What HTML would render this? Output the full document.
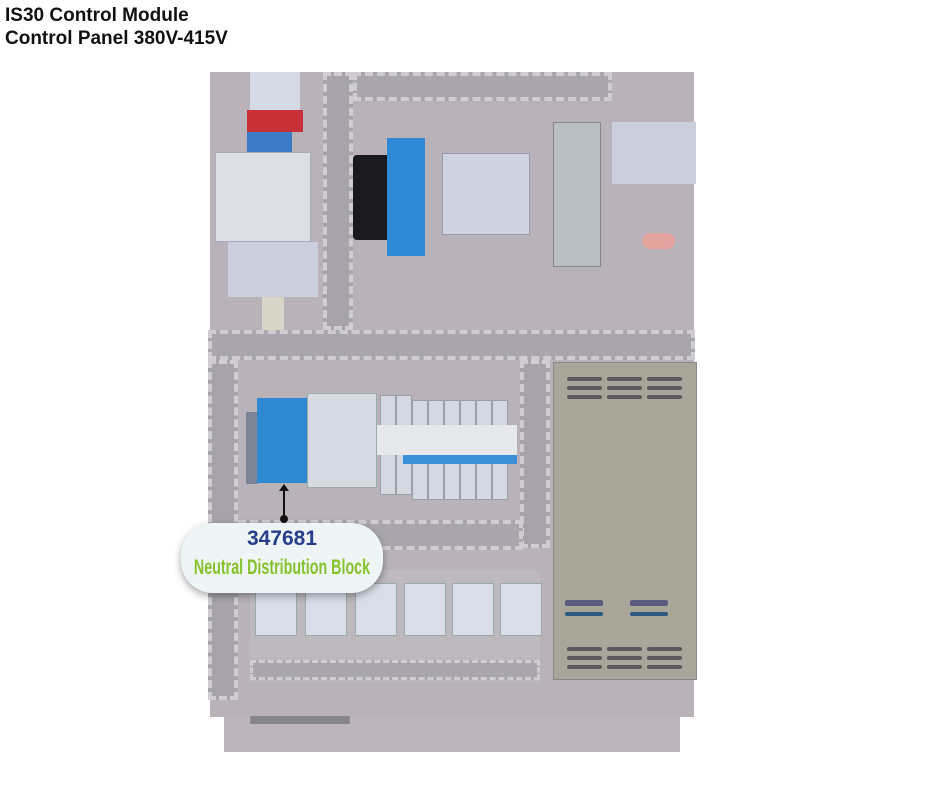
<!DOCTYPE html>
<html><head><style>
body{margin:0;width:940px;height:788px;background:#fff;position:relative;overflow:hidden;font-family:"Liberation Sans",sans-serif}
div{position:absolute;box-sizing:border-box}
.duct{background:#a9a7ad;border:4px dashed #cfcdd2}
.ductv{background:#a6a4aa;border:4px dashed #cfcdd2}
.rel{background:#d8dde8;border:1px solid #9aa;width:42px;height:53px;top:583px}
.sl{background:#5a5a5e;height:4px;border-radius:2px}
.br{background:#d4d8e0;border:1px solid #9aa0aa;width:16px}
</style></head><body>
<div style="left:5px;top:4px;font-weight:bold;font-size:19px;line-height:23px;color:#111">IS30 Control Module<br>Control Panel 380V-415V</div>
<div style="left:210px;top:72px;width:484px;height:645px;background:#b9b3b9"></div>
<div style="left:224px;top:716px;width:456px;height:36px;background:#bcb6bc"></div>
<div class="duct" style="left:353px;top:72px;width:259px;height:29px"></div>
<div class="ductv" style="left:323px;top:72px;width:30px;height:258px"></div>
<div class="duct" style="left:208px;top:330px;width:487px;height:30px"></div>
<div class="ductv" style="left:208px;top:360px;width:30px;height:340px"></div>
<div class="ductv" style="left:520px;top:360px;width:30px;height:188px"></div>
<div class="duct" style="left:238px;top:520px;width:285px;height:30px"></div>
<div style="left:250px;top:72px;width:50px;height:40px;background:#d6dae4"></div>
<div style="left:247px;top:110px;width:56px;height:22px;background:#c8303a"></div>
<div style="left:247px;top:132px;width:45px;height:20px;background:#3b7cc4"></div>
<div style="left:215px;top:152px;width:96px;height:90px;background:#dcdfe6;border:1px solid #aab"></div>
<div style="left:228px;top:242px;width:90px;height:55px;background:#c9cfdc"></div>
<div style="left:262px;top:297px;width:22px;height:33px;background:#d8d6c8"></div>
<div style="left:353px;top:155px;width:40px;height:85px;background:#1a1a1c;border-radius:4px"></div>
<div style="left:387px;top:138px;width:38px;height:118px;background:#2f8ad6"></div>
<div style="left:442px;top:153px;width:88px;height:82px;background:#cdd3e0;border:1px solid #99a"></div>
<div style="left:553px;top:122px;width:48px;height:145px;background:#b8c0c4;border:1px solid #888"></div>
<div style="left:612px;top:122px;width:84px;height:62px;background:#c8cedc"></div>
<div style="left:642px;top:233px;width:33px;height:16px;background:#e4a4a0;border-radius:8px"></div>
<div style="left:246px;top:412px;width:12px;height:72px;background:#7b8494"></div>
<div style="left:257px;top:398px;width:50px;height:85px;background:#2e88d2"></div>
<div style="left:307px;top:393px;width:70px;height:95px;background:#d6dae2;border:1px solid #9aa"></div>
<div class="br" style="left:380px;top:395px;height:100px"></div>
<div class="br" style="left:396px;top:395px;height:100px"></div>
<div class="br" style="left:412px;top:400px;height:100px"></div>
<div class="br" style="left:428px;top:400px;height:100px"></div>
<div class="br" style="left:444px;top:400px;height:100px"></div>
<div class="br" style="left:460px;top:400px;height:100px"></div>
<div class="br" style="left:476px;top:400px;height:100px"></div>
<div class="br" style="left:492px;top:400px;height:100px"></div>
<div style="left:377px;top:425px;width:140px;height:30px;background:#e6e8ea"></div>
<div style="left:403px;top:455px;width:114px;height:9px;background:#3c90d8"></div>
<div style="left:553px;top:362px;width:144px;height:318px;background:#a8a699;border:1px solid #888"></div>
<div class="sl" style="left:567px;top:377px;width:35px"></div><div class="sl" style="left:607px;top:377px;width:35px"></div><div class="sl" style="left:647px;top:377px;width:35px"></div>
<div class="sl" style="left:567px;top:386px;width:35px"></div><div class="sl" style="left:607px;top:386px;width:35px"></div><div class="sl" style="left:647px;top:386px;width:35px"></div>
<div class="sl" style="left:567px;top:395px;width:35px"></div><div class="sl" style="left:607px;top:395px;width:35px"></div><div class="sl" style="left:647px;top:395px;width:35px"></div>
<div class="sl" style="left:565px;top:600px;width:38px;height:6px;background:#5c5c80"></div><div class="sl" style="left:630px;top:600px;width:38px;height:6px;background:#5c5c80"></div>
<div class="sl" style="left:565px;top:612px;width:38px;background:#2c5a80"></div><div class="sl" style="left:630px;top:612px;width:38px;background:#2c5a80"></div>
<div class="sl" style="left:567px;top:647px;width:35px"></div><div class="sl" style="left:607px;top:647px;width:35px"></div><div class="sl" style="left:647px;top:647px;width:35px"></div>
<div class="sl" style="left:567px;top:656px;width:35px"></div><div class="sl" style="left:607px;top:656px;width:35px"></div><div class="sl" style="left:647px;top:656px;width:35px"></div>
<div class="sl" style="left:567px;top:665px;width:35px"></div><div class="sl" style="left:607px;top:665px;width:35px"></div><div class="sl" style="left:647px;top:665px;width:35px"></div>
<div style="left:250px;top:570px;width:290px;height:112px;background:#bdb9bd"></div>
<div class="duct" style="left:250px;top:660px;width:290px;height:20px;border-width:3px"></div>
<div class="rel" style="left:255px"></div><div class="rel" style="left:305px"></div><div class="rel" style="left:355px"></div>
<div class="rel" style="left:404px"></div><div class="rel" style="left:452px"></div><div class="rel" style="left:500px"></div>
<div style="left:250px;top:716px;width:100px;height:8px;background:#888"></div>
<div style="left:283px;top:487px;width:2px;height:33px;background:#111"></div>
<div style="left:279px;top:484px;width:0;height:0;border-left:5px solid transparent;border-right:5px solid transparent;border-bottom:7px solid #111"></div>
<div style="left:280px;top:515px;width:8px;height:8px;border-radius:4px;background:#111"></div>
<div style="left:181px;top:523px;width:202px;height:70px;background:#eef5f6;border-radius:32px;box-shadow:0 3px 8px rgba(0,0,0,.35)"></div>
<div style="left:181px;top:527px;width:202px;text-align:center;font-weight:bold;font-size:21px;color:#263d8c">347681</div>
<div style="left:132px;top:556px;width:300px;text-align:center;font-weight:bold;font-size:21px;color:#86c22a;white-space:nowrap;transform:scaleX(.68);transform-origin:150px 0">Neutral Distribution Block</div>
</body></html>
